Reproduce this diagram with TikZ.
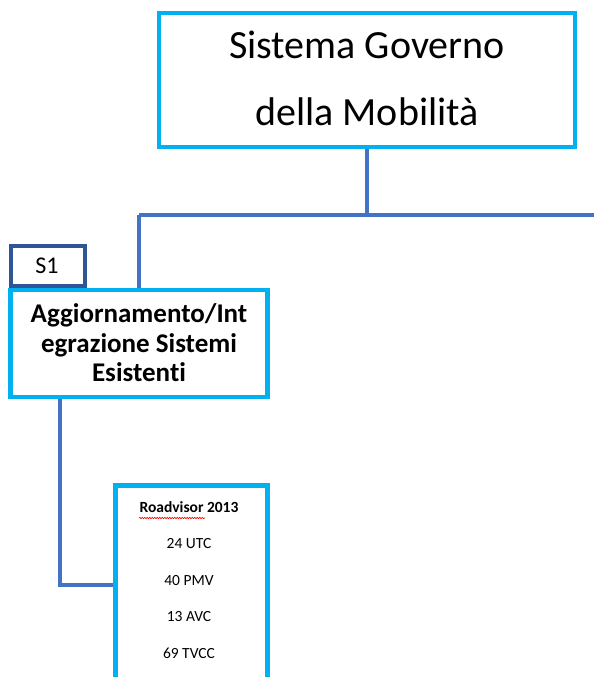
\documentclass[tikz,border=0pt]{standalone}
\usepackage{fontspec}
\setmainfont[Ligatures=NoCommon]{Carlito}
\usetikzlibrary{decorations.pathmorphing}
\definecolor{boxcyan}{HTML}{00B0F0}
\definecolor{linkblue}{HTML}{4472C4}
\definecolor{tagblue}{HTML}{2F5597}
\begin{document}
\begin{tikzpicture}[x=1pt,y=-1pt,
  box/.style={draw=boxcyan, line width=4.5pt, fill=white, rectangle, inner sep=0pt},
  tag/.style={draw=tagblue, line width=4pt, fill=white, rectangle, inner sep=0pt},
  link/.style={draw=linkblue, line width=3.5pt},
  txt/.style={inner sep=0pt, align=center, text=black}]
\useasboundingbox (0,0) rectangle (594,677);
\clip (0,0) rectangle (594,677);

% junction points of the connectors
\coordinate (hub) at (367,215);
\coordinate (left) at (139,215);
\coordinate (right) at (600,215);
\coordinate (elbow) at (60,585);

% root box
\node[box, minimum width=416pt, minimum height=134pt] (root) at (367,80) {};
\node[txt, font=\fontsize{40}{67}\selectfont] (roottxt) at (367,78)
  {Sistema Governo\\della Mobilità};

% S1 branch box
\node[box, minimum width=257pt, minimum height=107pt] (s1box) at (139,343.5) {};
\node[txt, font=\fontsize{27}{29.5}\selectfont\bfseries] (s1txt) at (139,343)
  {Aggiornamento/Int\\egrazione Sistemi\\Esistenti};

\node[tag, minimum width=74pt, minimum height=40pt] (s1) at (48,266) {};
\node[txt, font=\fontsize{24}{26}\selectfont] (s1lbl) at (47,266) {S1};

% subsystem list box, running past the lower edge
\node[box, minimum width=152pt, minimum height=260pt, anchor=north west] (road) at (113,483) {};
\node[txt, font=\fontsize{15.5}{36.5}\selectfont, anchor=north] (roadtxt) at (189,501)
  {\textbf{Roadvisor 2013}\\24 UTC\\40 PMV\\13 AVC\\69 TVCC};
\draw[red, line width=0.6pt, decorate, decoration={snake, amplitude=0.7pt, segment length=2.5pt}]
  (139,518) -- (205,518);

% connectors
\draw[link] (root.south) -- (hub);
\draw[link] (left) -- (right);
\draw[link] (left) -- (s1box.north -| left);
\draw[link] (s1box.south -| elbow) -- (elbow) -- (elbow -| road.west);
\end{tikzpicture}
\end{document}
